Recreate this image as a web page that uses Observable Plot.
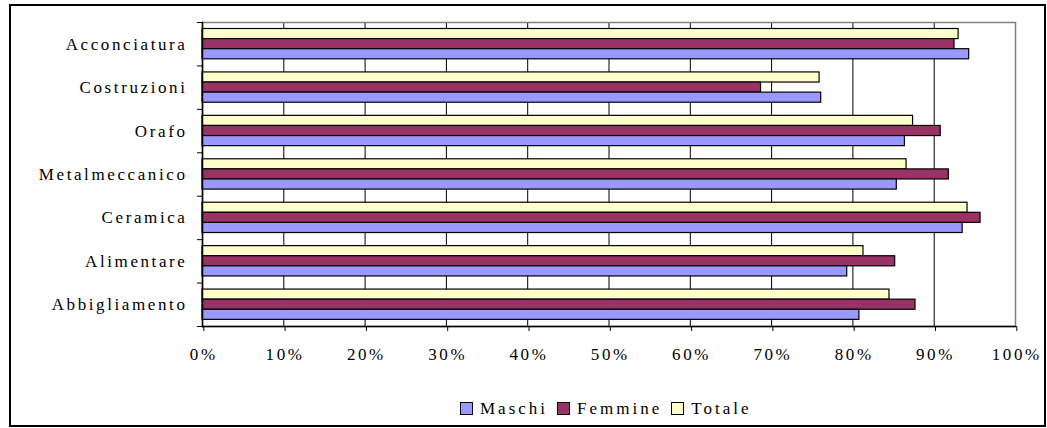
<!DOCTYPE html>
<html><head><meta charset="utf-8">
<script src="https://cdn.jsdelivr.net/npm/d3@7"></script>
<script src="https://cdn.jsdelivr.net/npm/@observablehq/plot@0.6"></script>
<style>
body{margin:0;background:#fff;}
#border{position:absolute;left:9px;top:4px;width:1037px;height:423px;border:2px solid #000;box-sizing:border-box;}
#chart{position:absolute;left:0;top:0;}
#legend{position:absolute;left:460px;top:400px;display:flex;align-items:center;font-family:"Liberation Serif","Times New Roman",serif;font-size:17px;letter-spacing:3px;color:#000;line-height:17px;}
.sw{width:11px;height:11px;border:1.5px solid #000;margin-right:7px;flex:none;}
.item{display:flex;align-items:center;margin-right:9px;}
</style></head><body>
<div id="border"></div><div id="chart"></div><div id="legend"></div>
<script>
const categories = ["Acconciatura","Costruzioni","Orafo","Metalmeccanico","Ceramica","Alimentare","Abbigliamento"];
const series = ["Maschi","Femmine","Totale"];
const maschi  = [94.3, 76.1, 86.4, 85.4, 93.5, 79.3, 80.8];
const femmine = [92.5, 68.7, 90.8, 91.8, 95.7, 85.2, 87.7];
const totale  = [93.0, 75.9, 87.4, 86.6, 94.1, 81.3, 84.5];
const colors  = ["#9999FF", "#993366", "#FFFFCC"];
const xTicks  = [0, 10, 20, 30, 40, 50, 60, 70, 80, 90, 100];

const valuesBySeries = {Maschi: maschi, Femmine: femmine, Totale: totale};
const rows = [];
series.forEach(s => categories.forEach((c, i) => rows.push({category: c, series: s, value: valuesBySeries[s][i]})));

const H = 380, MT = 22, MB = 54;
const bw = (H - MT - MB) / categories.length;
const barH = 10.1, off = 6.5;
// vertical order inside each band: Totale (top), Femmine, Maschi (bottom)
const order = ["Totale", "Femmine", "Maschi"];
const barMarks = order.map((s, k) => Plot.barX(rows.filter(d => d.series === s), {
  x: "value", y: "category",
  fill: colors[series.indexOf(s)], stroke: "#000", strokeWidth: 1.2,
  insetTop: off + k * barH, insetBottom: bw - off - (k + 1) * barH
}));

const chart = Plot.plot({
  width: 1047, height: H,
  marginLeft: 202, marginRight: 32, marginTop: MT, marginBottom: MB,
  style: {fontFamily: "'Liberation Serif','Times New Roman',serif", fontSize: "17px", letterSpacing: "2.6px", color: "#000", background: "transparent", overflow: "visible"},
  x: {domain: [0, 100]},
  y: {domain: categories, padding: 0, round: false},
  marks: [
    Plot.ruleX(xTicks.slice(1, -1), {stroke: "#000", strokeWidth: 1}),
    Plot.frame({stroke: "#808080", strokeWidth: 1.5}),
    ...barMarks,
    Plot.ruleY(categories, {y: d => d, x1: -0.62, x2: 0, dy: -bw / 2, stroke: "#000"}),
    Plot.ruleY(categories.slice(-1), {y: d => d, x1: -0.62, x2: 0, dy: bw / 2, stroke: "#000"}),
    Plot.frame({anchor: "left", stroke: "#000", strokeWidth: 1.5}),
    Plot.frame({anchor: "bottom", stroke: "#000", strokeWidth: 1.5}),
    Plot.axisY({tickSize: 0, tickPadding: 15, label: null}),
    Plot.axisX({ticks: xTicks, tickFormat: d => d + "%", tickSize: 5, tickPadding: 16, label: null, dx: 1.3})
  ]
});
document.getElementById("chart").appendChild(chart);

const legend = d3.select("#legend");
series.forEach((s, i) => {
  const it = legend.append("div").attr("class", "item");
  it.append("div").attr("class", "sw").style("background", colors[i]);
  it.append("span").text(s);
});
</script>
</body></html>
